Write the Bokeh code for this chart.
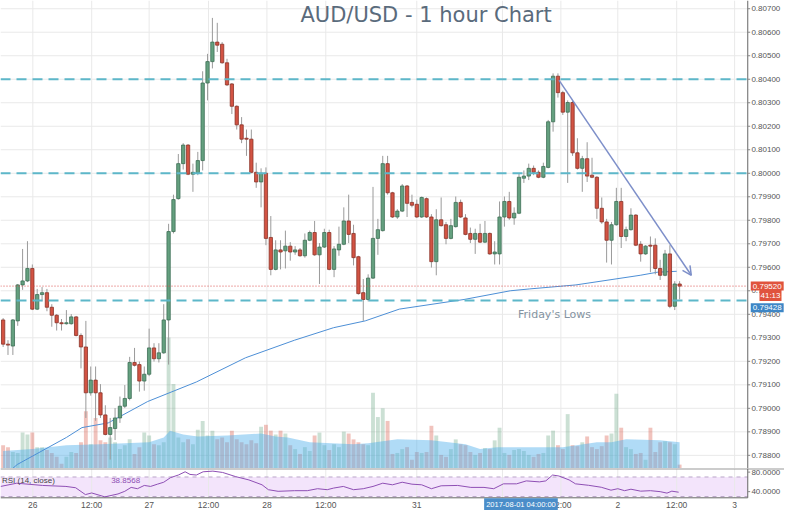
from bokeh.plotting import figure
from bokeh.models import (Range1d, Label, Arrow, OpenHead, ColumnDataSource, BoxAnnotation)
from bokeh.core.properties import value
from bokeh.layouts import column
from bokeh.embed import file_html
from bokeh.resources import INLINE

# ---------------- data ----------------
opens = [0.79376, 0.79273, 0.79265, 0.79372, 0.79525, 0.79542, 0.79595, 0.79422, 0.79484, 0.79492,
         0.79430, 0.79396, 0.79364, 0.79360, 0.79360, 0.79389, 0.79310, 0.79261, 0.79066, 0.79120,
         0.79066, 0.78972, 0.78889, 0.78914, 0.78959, 0.79009, 0.79042, 0.79195, 0.79186, 0.79116,
         0.79145, 0.79257, 0.79211, 0.79236, 0.79376, 0.79752, 0.79892, 0.80041, 0.80120, 0.79996,
         0.80000, 0.80054, 0.80384, 0.80475, 0.80558, 0.80549, 0.80470, 0.80380, 0.80285, 0.80206,
         0.80149, 0.80145, 0.80004, 0.79963, 0.80000, 0.79727, 0.79591, 0.79674, 0.79670, 0.79690,
         0.79665, 0.79674, 0.79649, 0.79715, 0.79748, 0.79653, 0.79686, 0.79748, 0.79591, 0.79674,
         0.79698, 0.79797, 0.79744, 0.79645, 0.79492, 0.79463, 0.79554, 0.79723, 0.79756, 0.80041,
         0.79917, 0.79814, 0.79839, 0.79946, 0.79876, 0.79868, 0.79814, 0.79892, 0.79814, 0.79624,
         0.79802, 0.79781, 0.79723, 0.79773, 0.79876, 0.79810, 0.79744, 0.79719, 0.79744, 0.79707,
         0.79744, 0.79657, 0.79657, 0.79814, 0.79880, 0.79810, 0.79830, 0.79979, 0.79988, 0.80021,
         0.80004, 0.79983, 0.80025, 0.80219, 0.80413, 0.80343, 0.80260, 0.80301, 0.80087, 0.80021,
         0.80062, 0.79992, 0.79983, 0.79851, 0.79793, 0.79715, 0.79781, 0.79880, 0.79731, 0.79760,
         0.79822, 0.79698, 0.79657, 0.79694, 0.79694, 0.79595, 0.79566, 0.79657, 0.79434, 0.79529]

highs = [0.79384, 0.79290, 0.79380, 0.79529, 0.79678, 0.79711, 0.79612, 0.79508, 0.79516, 0.79508,
         0.79443, 0.79401, 0.79380, 0.79418, 0.79401, 0.79393, 0.79319, 0.79372, 0.79178, 0.79178,
         0.79103, 0.79013, 0.78959, 0.79001, 0.79050, 0.79099, 0.79219, 0.79257, 0.79199, 0.79178,
         0.79339, 0.79277, 0.79277, 0.79443, 0.79785, 0.79909, 0.80082, 0.80128, 0.80124, 0.80041,
         0.80091, 0.80434, 0.80508, 0.80661, 0.80640, 0.80558, 0.80487, 0.80384, 0.80289, 0.80239,
         0.80186, 0.80186, 0.80045, 0.80021, 0.80025, 0.79818, 0.79715, 0.79715, 0.79756, 0.79707,
         0.79690, 0.79682, 0.79744, 0.79756, 0.79797, 0.79703, 0.79764, 0.79760, 0.79690, 0.79773,
         0.79855, 0.79909, 0.79781, 0.79649, 0.79550, 0.79570, 0.79942, 0.79806, 0.80074, 0.80074,
         0.79921, 0.79847, 0.79954, 0.79950, 0.79909, 0.79888, 0.79901, 0.79897, 0.79826, 0.79847,
         0.79897, 0.79793, 0.79806, 0.79901, 0.79888, 0.79826, 0.79769, 0.79764, 0.79785, 0.79797,
         0.79748, 0.79711, 0.79880, 0.79901, 0.79921, 0.79855, 0.80000, 0.80012, 0.80041, 0.80033,
         0.80012, 0.80045, 0.80227, 0.80425, 0.80425, 0.80351, 0.80310, 0.80310, 0.80149, 0.80074,
         0.80132, 0.80066, 0.79988, 0.79897, 0.79806, 0.79793, 0.79938, 0.79938, 0.79773, 0.79851,
         0.79826, 0.79711, 0.79694, 0.79731, 0.79723, 0.79632, 0.79674, 0.79694, 0.79541, 0.79541]

lows = [0.79261, 0.79227, 0.79227, 0.79351, 0.79504, 0.79537, 0.79418, 0.79418, 0.79455, 0.79413,
        0.79347, 0.79331, 0.79331, 0.79356, 0.79356, 0.79306, 0.79170, 0.78959, 0.79054, 0.78947,
        0.78959, 0.78885, 0.78782, 0.78865, 0.78938, 0.79001, 0.79034, 0.79178, 0.79071, 0.79075,
        0.79137, 0.79199, 0.79195, 0.79232, 0.79186, 0.79744, 0.79888, 0.80016, 0.79992, 0.79921,
        0.79992, 0.80012, 0.80310, 0.80446, 0.80516, 0.80466, 0.80371, 0.80252, 0.80186, 0.80128,
        0.80074, 0.80000, 0.79938, 0.79855, 0.79694, 0.79566, 0.79587, 0.79591, 0.79595, 0.79628,
        0.79653, 0.79645, 0.79641, 0.79711, 0.79649, 0.79529, 0.79682, 0.79587, 0.79558, 0.79649,
        0.79694, 0.79703, 0.79608, 0.79484, 0.79372, 0.79455, 0.79550, 0.79653, 0.79752, 0.79909,
        0.79810, 0.79806, 0.79835, 0.79814, 0.79855, 0.79810, 0.79810, 0.79810, 0.79599, 0.79566,
        0.79773, 0.79698, 0.79719, 0.79769, 0.79810, 0.79736, 0.79703, 0.79657, 0.79703, 0.79703,
        0.79653, 0.79612, 0.79612, 0.79773, 0.79802, 0.79781, 0.79826, 0.79959, 0.79971, 0.79992,
        0.79979, 0.79979, 0.80021, 0.80177, 0.80322, 0.80248, 0.79959, 0.80074, 0.80016, 0.79921,
        0.79963, 0.79979, 0.79806, 0.79785, 0.79620, 0.79612, 0.79777, 0.79682, 0.79711, 0.79756,
        0.79690, 0.79624, 0.79653, 0.79579, 0.79570, 0.79546, 0.79562, 0.79426, 0.79418, 0.79463]

closes = [0.79273, 0.79269, 0.79376, 0.79525, 0.79542, 0.79595, 0.79422, 0.79484, 0.79492, 0.79430,
          0.79396, 0.79364, 0.79360, 0.79364, 0.79389, 0.79310, 0.79261, 0.79066, 0.79120, 0.79066,
          0.78972, 0.78889, 0.78918, 0.78959, 0.79009, 0.79042, 0.79195, 0.79183, 0.79116, 0.79145,
          0.79257, 0.79211, 0.79236, 0.79376, 0.79752, 0.79888, 0.80041, 0.80120, 0.79996, 0.80004,
          0.80054, 0.80384, 0.80475, 0.80558, 0.80545, 0.80470, 0.80376, 0.80285, 0.80206, 0.80145,
          0.80145, 0.80004, 0.79963, 0.80000, 0.79723, 0.79591, 0.79674, 0.79665, 0.79690, 0.79665,
          0.79674, 0.79649, 0.79715, 0.79748, 0.79653, 0.79686, 0.79748, 0.79591, 0.79678, 0.79698,
          0.79797, 0.79740, 0.79641, 0.79488, 0.79463, 0.79554, 0.79723, 0.79760, 0.80041, 0.79917,
          0.79814, 0.79839, 0.79946, 0.79872, 0.79864, 0.79814, 0.79897, 0.79814, 0.79624, 0.79802,
          0.79777, 0.79723, 0.79777, 0.79876, 0.79814, 0.79740, 0.79719, 0.79744, 0.79707, 0.79744,
          0.79657, 0.79665, 0.79814, 0.79880, 0.79810, 0.79830, 0.79983, 0.79988, 0.80021, 0.80004,
          0.79983, 0.80029, 0.80219, 0.80413, 0.80343, 0.80260, 0.80301, 0.80087, 0.80021, 0.80062,
          0.79988, 0.79983, 0.79851, 0.79793, 0.79715, 0.79781, 0.79880, 0.79731, 0.79760, 0.79822,
          0.79694, 0.79657, 0.79690, 0.79690, 0.79595, 0.79566, 0.79657, 0.79434, 0.79529, 0.79520]

volumes = [2400, 2200, 1700, 1600, 3700, 3500, 3700, 2200, 2200, 1900,
           1600, 1200, 500, 1200, 1700, 1600, 2700, 5900, 2500, 5200,
           2900, 2700, 3200, 2700, 2000, 2400, 3000, 1500, 2200, 3700,
           3400, 2500, 2400, 2700, 13500, 8700, 3200, 2700, 3000, 2500,
           4000, 4900, 3400, 3900, 3000, 3200, 2700, 3900, 3000, 2700,
           2500, 2900, 2600, 4300, 4500, 3900, 3500, 3900, 3600, 2400,
           2000, 1500, 2200, 1800, 3400, 3700, 2400, 1900, 2500, 2200,
           3800, 3600, 3000, 2700, 2500, 2400, 7800, 5300, 6200, 4900,
           1500, 1600, 2000, 2200, 900, 1700, 1600, 1700, 4400, 3400,
           1400, 1200, 2000, 3000, 2500, 2400, 1700, 1400, 1600, 2100,
           2000, 2900, 4200, 1600, 1400, 1900, 2000, 1800, 1400, 1200,
           1500, 1600, 3400, 3900, 2400, 2000, 5600, 2400, 2300, 2700,
           3300, 2200, 2000, 2300, 3400, 3600, 7700, 4200, 2200, 2000,
           1500, 1600, 900, 4200, 1700, 2700, 2800, 2700, 2500, 400]

# volume moving average (area), read at a few bar positions
vma_bar = [0, 6, 13, 20, 30, 33, 34.3, 37, 40, 46, 53, 56, 58.5, 63, 72, 75, 81, 88,
           95, 98, 101.5, 108, 115, 122, 125, 128, 135, 139]
vma_val = [1800, 2000, 2400, 2500, 2700, 3200, 3900, 3500, 3300, 3400, 3600, 3300, 3200,
           2700, 2500, 2600, 3000, 2900, 2500, 2000, 2200, 2200, 2200, 2700, 2700, 3000,
           2900, 2700]

# long moving average on price
ma_bar = [1.5, 2.9, 13, 16.2, 21.6, 29.7, 39.7, 49.8, 59.9, 67.9, 74.4, 81.4, 94.7,
          104.2, 108.2, 117.7, 130.9, 134.4, 138.4]
ma_val = [0.78736, 0.78761, 0.78876, 0.78918, 0.78938, 0.79029, 0.79112, 0.79215, 0.79290,
          0.79343, 0.79372, 0.79422, 0.79463, 0.79500, 0.79508, 0.79525, 0.79566, 0.79579,
          0.79583]

# RSI (14, close)
rsi_bar = [-0.5, 2.8, 8.1, 12.9, 14.9, 16.9, 18.2, 20.9, 23.6, 25, 26.3, 27.6, 29, 30.3,
           31.7, 33, 34.4, 36, 37.4, 38.4, 39.7, 41.1, 43.1, 45.1, 47.8, 50.5, 53.2, 54.5,
           56.5, 59.9, 62.5, 64.6, 66.6, 67.9, 69.9, 72, 74, 76, 78, 80, 82, 84, 86, 88, 90,
           93.4, 96.1, 98.8, 100.8, 102.8, 105.5, 107.5, 110.2, 111.5, 112.9, 114.2, 116.3,
           117.6, 120.3, 122.9, 124.9, 126.3, 127.7, 129, 131, 133, 135, 136.4, 137.4, 138.8]
rsi_val = [50.7, 57.3, 52.7, 50.7, 48, 34, 37.3, 29.3, 35.3, 40.7, 48.7, 46, 52.7, 50.7,
           55.3, 59.3, 68.7, 74, 80.7, 75.3, 74, 80.7, 82, 79.3, 70.7, 64, 54, 44,
           40.7, 42, 42, 46, 44, 47.3, 50.7, 44, 46, 50.7, 57.3, 54, 59.3, 55.3, 54, 46, 52,
           52.7, 48.7, 48.7, 46, 56, 56, 62, 60, 62, 74, 72, 64,
           56, 53, 49, 43, 46, 42, 45, 41, 42, 40, 37, 41, 38.86]

price_ticks = [0.788, 0.789, 0.790, 0.791, 0.792, 0.793, 0.794, 0.795, 0.796, 0.797,
               0.798, 0.799, 0.800, 0.801, 0.802, 0.803, 0.804, 0.805, 0.806, 0.807]
price_labels = ["%.5f" % t for t in price_ticks]
level_lines = [0.804, 0.800, 0.79459]
last_price = 0.79520
ma_last = 0.79428
rsi_ticks = [40, 80]
rsi_labels = ["40.0000", "80.0000"]
rsi_levels = [30, 70]

time_ticks = [6.1, 18.2, 30, 42.2, 54.2, 66.3, 85, 114.6, 126.3, 138.4, 150.3]
time_labels = ["26", "12:00", "27", "12:00", "28", "12:00", "31", "12:00", "2", "12:00", "3"]
grid_ticks = [6.1, 18.2, 30, 42.2, 54.2, 66.3, 85, 102.6, 114.6, 126.3, 138.4, 150.3]

trend_start = (114.2, 0.80396)
trend_end = (141.4, 0.79566)

# ---------------- styling / geometry ----------------
UP, DOWN = "#64a07f", "#d25343"
UP_LINE, DOWN_LINE = "#3d6e55", "#8a3328"
WICK = "#9a9a9a"
GRID = "#e9e9e9"
AXIS_TXT = "#555555"
AXIS_LINE = "#666666"
AX_FONT = "Liberation Sans"
FS = "8px"
X0, X1 = -0.54, 160.55      # full canvas width in bar units
XA = 153.0                  # position of the price axis line
Y0, Y1 = 0.78744, 0.80735
R0, R1 = 1.4, 87.4          # RSI panel incl. time-label strip
RB = 27.4                   # bottom line of RSI panel

bars = list(range(len(opens)))
is_up = [c >= o for o, c in zip(opens, closes)]
src = ColumnDataSource(dict(
    x=bars, open=opens, high=highs, low=lows, close=closes, vol=volumes,
    fill=[UP if u else DOWN for u in is_up],
    line=[UP_LINE if u else DOWN_LINE for u in is_up],
    vfill=["#6ba583" if u else "#d75442" for u in is_up],
    top=[max(o, c) for o, c in zip(opens, closes)],
    bot=[min(o, c) for o, c in zip(opens, closes)],
))

p = figure(width=784, height=468, x_range=Range1d(X0, X1), y_range=Range1d(Y0, Y1),
           x_axis_location=None, y_axis_location=None, output_backend="svg",
           toolbar_location=None, min_border=0)
p.outline_line_color = None
p.grid.visible = False
p.extra_y_ranges = {"vol": Range1d(0, 48200)}

# grid
n = len(price_ticks)
p.segment(x0=[X0] * n, x1=[XA] * n, y0=price_ticks, y1=price_ticks, line_color=GRID, line_width=1)
m = len(grid_ticks)
p.segment(x0=grid_ticks, x1=grid_ticks, y0=[Y0] * m, y1=[Y1] * m, line_color=GRID, line_width=1)

# volume
p.vbar(x="x", top="vol", bottom=0, width=0.8, source=src, y_range_name="vol",
       fill_color="vfill", fill_alpha=0.35, line_color=None)
p.varea(x=vma_bar, y1=[0] * len(vma_bar), y2=vma_val, y_range_name="vol",
        fill_color="#4fb0ea", fill_alpha=0.45)

# long MA
p.line(ma_bar, ma_val, line_color="#4d8fd6", line_width=1)

# candles
p.segment(x0="x", y0="high", x1="x", y1="low", source=src, line_color=WICK, line_width=1)
p.vbar(x="x", top="top", bottom="bot", width=0.68, source=src,
       fill_color="fill", line_color="line", line_width=0.8)

# horizontal levels (stop at the price axis)
k = len(level_lines)
p.segment(x0=[X0] * k, x1=[XA] * k, y0=level_lines, y1=level_lines,
          line_color="#5db7c9", line_width=2, line_dash="10 6")
p.segment(x0=[X0], x1=[XA], y0=[last_price], y1=[last_price],
          line_color="#d9534f", line_width=1, line_dash="1 2")

# price axis (drawn inside the canvas so the price tags can sit on it)
p.segment(x0=[XA], x1=[XA], y0=[Y0], y1=[Y1], line_color=AXIS_LINE, line_width=1)
p.segment(x0=[XA] * n, x1=[XA + 0.5] * n, y0=price_ticks, y1=price_ticks,
          line_color="#888888", line_width=1)
p.text(x=[XA + 0.75] * n, y=price_ticks, text=price_labels, text_baseline="middle",
       text_font=value(AX_FONT), text_font_size=value(FS), text_color=AXIS_TXT)

# trend line
p.add_layout(Arrow(end=OpenHead(size=9, line_color="#7d8fc9", line_width=1.5),
                   x_start=trend_start[0], y_start=trend_start[1],
                   x_end=trend_end[0], y_end=trend_end[1],
                   line_color="#7d8fc9", line_width=1.5))

# texts
p.add_layout(Label(x=86.9, y=0.80673, text="AUD/USD - 1 hour Chart", text_align="center",
                   text_baseline="middle", text_font="DejaVu Sans", text_font_size="21px",
                   text_color="#5a6b7c"))
p.add_layout(Label(x=105.8, y=0.79401, text="Friday's Lows", text_baseline="middle",
                   text_font="DejaVu Sans", text_font_size="11px", text_color="#8493a1"))

# price tags on the axis
p.add_layout(Label(x=XA, y=last_price, text="0.79520", text_baseline="middle",
                   text_font=AX_FONT, text_font_size=FS, text_color="white",
                   background_fill_color="#e0533d", x_offset=3, padding=2, level="overlay"))
p.add_layout(Label(x=X1, y=0.79480, text="41:13", text_baseline="middle", text_align="right",
                   text_font=AX_FONT, text_font_size=FS, text_color="white",
                   background_fill_color="#e0533d", x_offset=-3, padding=1, level="overlay"))
p.add_layout(Label(x=XA, y=ma_last, text="0.79428", text_baseline="middle",
                   text_font=AX_FONT, text_font_size=FS, text_color="white",
                   background_fill_color="#3d86c6", x_offset=3, padding=2, level="overlay"))

# ---------------- RSI panel ----------------
r = figure(width=784, height=42, x_range=p.x_range, y_range=Range1d(R0, R1),
           x_axis_location=None, y_axis_location=None, output_backend="svg",
           toolbar_location=None, min_border=0)
r.outline_line_color = None
r.grid.visible = False

r.segment(x0=grid_ticks, x1=grid_ticks, y0=[RB] * m, y1=[R1] * m, line_color=GRID, line_width=1)
r.add_layout(BoxAnnotation(left=X0, right=XA, bottom=rsi_levels[0], top=rsi_levels[1],
                           fill_color="#f3e4fb", fill_alpha=1, line_color=None, level="underlay"))
r.segment(x0=[X0, X0], x1=[XA, XA], y0=rsi_levels, y1=rsi_levels,
          line_color="#b9a6c8", line_width=1, line_dash="4 4")
r.line(rsi_bar, rsi_val, line_color="#8e4fb4", line_width=1)

# panel frame lines
r.segment(x0=[X0, X0, XA], x1=[X1, XA, XA], y0=[R1 - 0.6, RB, RB], y1=[R1 - 0.6, RB, R1],
          line_color=["#9a9a9a", AXIS_LINE, AXIS_LINE], line_width=[1.5, 1, 1])
r.segment(x0=[XA] * 2, x1=[XA + 0.5] * 2, y0=rsi_ticks, y1=rsi_ticks,
          line_color="#888888", line_width=1)
r.text(x=[XA + 0.75] * 2, y=rsi_ticks, text=rsi_labels, text_baseline="middle",
       text_font=value(AX_FONT), text_font_size=value(FS), text_color=AXIS_TXT)

# time axis labels
t = len(time_ticks)
r.text(x=time_ticks, y=[13.4] * t, text=time_labels, text_align="center",
       text_baseline="middle", text_font=value(AX_FONT), text_font_size=value("8.5px"),
       text_color=AXIS_TXT)

r.add_layout(Label(x=X0 + 0.3, y=63, text="RSI (14, close)", text_baseline="middle",
                   text_font=AX_FONT, text_font_size=FS, text_color="#444444"))
r.add_layout(Label(x=22.2, y=63, text="38.8568", text_baseline="middle",
                   text_font=AX_FONT, text_font_size=FS, text_color="#8e4fb4"))
r.add_layout(Label(x=106.4, y=13.4, text="2017-08-01 04:00:00", text_align="center",
                   text_baseline="middle", text_font=AX_FONT, text_font_size="7.5px",
                   text_color="white", background_fill_color="#4a8dc9", padding=2,
                   level="overlay"))

layout = column(p, r, spacing=0)
open("out.html", "w").write(file_html(layout, INLINE))
